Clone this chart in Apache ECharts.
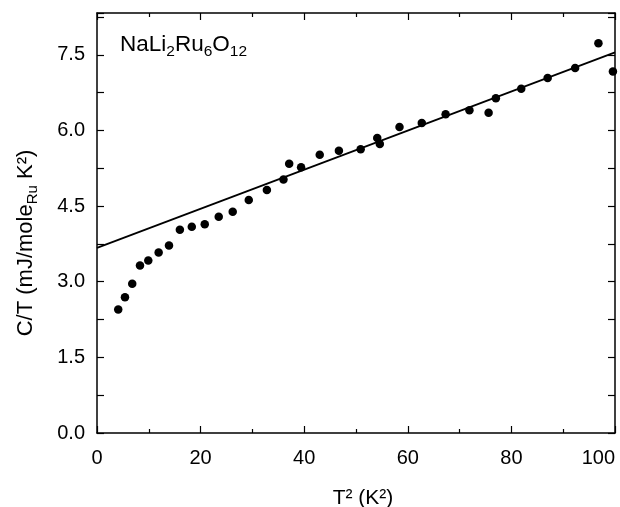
<!DOCTYPE html>
<html>
<head>
<meta charset="utf-8">
<script src="https://cdn.jsdelivr.net/npm/echarts@6/dist/echarts.min.js"></script>
<style>
html,body{margin:0;padding:0;background:#fff;}
#c{width:620px;height:507px;}
</style>
</head>
<body>
<div id="c"></div>
<script>
// Measured data: T^2 (K^2) vs C/T (mJ/mole_Ru K^2)
const xValues = [4.1, 5.4, 6.8, 8.3, 9.9, 11.9, 13.9, 16.0, 18.3, 20.8, 23.5, 26.2, 29.3, 32.8, 36.0, 37.1, 39.4, 43.0, 46.7, 50.9, 54.1, 54.6, 58.4, 62.7, 67.3, 71.9, 75.6, 77.0, 81.9, 87.0, 92.3, 96.8, 99.6];
const yValues = [2.45, 2.69, 2.96, 3.32, 3.42, 3.58, 3.72, 4.03, 4.09, 4.14, 4.29, 4.39, 4.62, 4.82, 5.03, 5.34, 5.27, 5.52, 5.60, 5.63, 5.85, 5.73, 6.07, 6.15, 6.32, 6.40, 6.35, 6.64, 6.83, 7.04, 7.24, 7.73, 7.17];
// Linear fit line endpoints
const fitX = [0, 100];
const fitY = [3.67, 7.55];
// Axis tick label values
const xTicks = [0, 20, 40, 60, 80, 100];
const yTicks = [0.0, 1.5, 3.0, 4.5, 6.0, 7.5];

const FONT = '"Liberation Sans", Arial, Helvetica, sans-serif';
const points = xValues.map((x, i) => [x, yValues[i]]);
const fitData = fitX.map((x, i) => [x, fitY[i]]);

const chart = echarts.init(document.getElementById('c'), null, {renderer: 'canvas'});
const mkLine = () => ({show: true, onZero: false, lineStyle: {color: '#000', width: 1.5}});
const mkTick = () => ({show: true, inside: true, length: 7, lineStyle: {color: '#000', width: 1.2}});

const option = {
  backgroundColor: '#fff',
  animation: false,
  grid: {left: 97, right: 5, top: 13, bottom: 74, containLabel: false, outerBoundsMode: 'none'},
  xAxis: [{
    type: 'value', min: 0, max: 100, interval: 20, position: 'bottom',
    axisLine: mkLine(),
    axisTick: mkTick(),
    minorTick: {show: true, splitNumber: 2, length: 4, lineStyle: {color: '#000', width: 1.2}},
    splitLine: {show: false}, minorSplitLine: {show: false},
    axisLabel: {
      color: '#000', fontSize: 20, fontFamily: FONT, margin: 15,
      alignMaxLabel: 'right',
      formatter: v => xTicks.indexOf(v) >= 0 ? String(v) : ''
    },
    name: 'T² (K²)', nameLocation: 'middle', nameGap: 55,
    nameTextStyle: {color: '#000', fontSize: 21, fontFamily: FONT, padding: [0, 0, 0, 14]}
  }, {
    type: 'value', min: 0, max: 100, interval: 20, position: 'top',
    axisLine: mkLine(),
    axisTick: mkTick(),
    minorTick: {show: true, splitNumber: 2, length: 4, lineStyle: {color: '#000', width: 1.2}},
    splitLine: {show: false}, axisLabel: {show: false}
  }],
  yAxis: [{
    type: 'value', min: 0, max: 8.33, interval: 1.5, position: 'left',
    axisLine: mkLine(),
    axisTick: mkTick(),
    minorTick: {show: true, splitNumber: 2, length: 7, lineStyle: {color: '#000', width: 1.2}},
    splitLine: {show: false},
    axisLabel: {
      color: '#000', fontSize: 20, fontFamily: FONT, margin: 12,
      formatter: v => {
        const t = yTicks.find(k => Math.abs(k - v) < 1e-6);
        return t === undefined ? '' : t.toFixed(1);
      }
    },
    name: '{m|C/T (mJ/mole}{s|Ru}{m| K²)}', nameLocation: 'middle', nameGap: 57,
    nameTextStyle: {
      color: '#000', fontSize: 22, fontFamily: FONT, padding: [0, 40, 0, 0],
      rich: {
        m: {fontSize: 22, fontFamily: FONT, color: '#000', lineHeight: 28, verticalAlign: 'middle'},
        s: {fontSize: 15, fontFamily: FONT, color: '#000', lineHeight: 15, verticalAlign: 'bottom'}
      }
    }
  }, {
    type: 'value', min: 0, max: 8.33, interval: 1.5, position: 'right',
    axisLine: mkLine(),
    axisTick: mkTick(),
    minorTick: {show: true, splitNumber: 2, length: 7, lineStyle: {color: '#000', width: 1.2}},
    splitLine: {show: false}, axisLabel: {show: false}
  }],
  graphic: [{
    type: 'text', left: 120, top: 33,
    style: {
      text: '{m|NaLi}{s|2}{m|Ru}{s|6}{m|O}{s|12}',
      fill: '#000',
      rich: {
        m: {fontSize: 22.5, fontFamily: FONT, fill: '#000', lineHeight: 30, verticalAlign: 'middle'},
        s: {fontSize: 15.5, fontFamily: FONT, fill: '#000', lineHeight: 15, verticalAlign: 'bottom'}
      }
    }
  }],
  series: [{
    type: 'line', data: fitData, xAxisIndex: 0, yAxisIndex: 0,
    showSymbol: false, symbol: 'none',
    lineStyle: {color: '#000', width: 1.8}, z: 2
  }, {
    type: 'scatter', data: points, xAxisIndex: 0, yAxisIndex: 0,
    symbol: 'circle', symbolSize: 8.5,
    itemStyle: {color: '#000', opacity: 1}, z: 3
  }]
};
chart.setOption(option);
</script>
</body>
</html>
